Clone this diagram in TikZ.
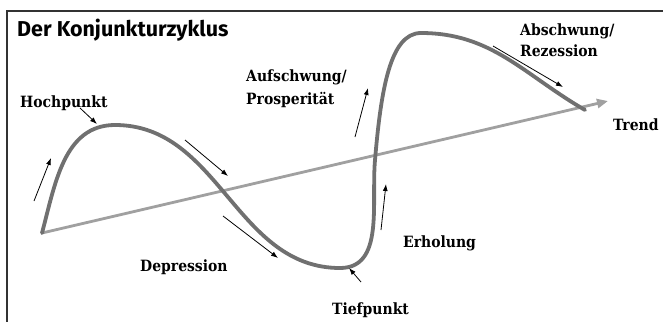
\documentclass[tikz,border=0pt]{standalone}
\usepackage{fontspec}
\setmainfont{DejaVu Serif Condensed}
\newfontfamily\titlefont{Fira Sans}
\usetikzlibrary{arrows.meta}
\definecolor{kurvengrau}{HTML}{707070}
\definecolor{trendgrau}{HTML}{A0A0A0}
\definecolor{rahmengrau}{HTML}{333333}
\begin{document}
\begin{tikzpicture}[
        x=1pt, y=-1pt,
        rahmen/.style={draw=rahmengrau, line width=1.4pt},
        kurve/.style={draw=kurvengrau, line width=3.8pt},
        trend/.style={draw=trendgrau, line width=2.8pt, -{Triangle[length=11pt,width=9pt]}},
        pfeil/.style={draw, line width=0.8pt, -{Latex[length=7pt,width=5pt]}},
        label/.style={inner sep=0pt, anchor=base west, font=\fontsize{15.5}{20}\selectfont\bfseries},
    ]
    \useasboundingbox (0,0) rectangle (663,322);
    \draw[rahmen] (663,11) -- (7,11) -- (7,322);
    \node[inner sep=0pt, anchor=base west, font=\titlefont\fontsize{21.5}{24}\selectfont\bfseries] (titel) at (17,36) {Der Konjunkturzyklus};

    \coordinate (start) at (42,233);
    \coordinate (hoch) at (115,125);
    \coordinate (tief) at (340,268);
    \coordinate (aufwaerts) at (375,160);
    \coordinate (gipfel) at (421,33);
    \coordinate (ende) at (585,110);
    \coordinate (trendspitze) at (608,101);

    \draw[trend] (start) -- (trendspitze);
    \draw[kurve, line cap=round] (start) to[out=75,in=180] (hoch)
        to[out=0,in=180] (tief)
        to[out=0,in=-95] (aufwaerts)
        .. controls (381,90) and (390,33) .. (gipfel)
        to[out=0,in=150] (ende);

    \node[label] (hochpunkt) at (20,107) {Hochpunkt};
    \node[label] (aufschwung) at (246,81) {Aufschwung/};
    \node[label] (prosperitaet) at (246,104) {Prosperität};
    \node[label] (abschwung) at (520,35) {Abschwung/};
    \node[label] (rezession) at (520,56) {Rezession};
    \node[label] (trendtext) at (613,130) {Trend};
    \node[label] (depression) at (140,271) {Depression};
    \node[label] (erholung) at (403,247) {Erholung};
    \node[label] (tiefpunkt) at (332,314) {Tiefpunkt};

    \coordinate (p1a) at (80,108);  \coordinate (p1b) at (97,124);
    \coordinate (p2a) at (34,201);  \coordinate (p2b) at (51,158);
    \coordinate (p3a) at (185,140); \coordinate (p3b) at (228,176);
    \coordinate (p4a) at (223,216); \coordinate (p4b) at (278,258);
    \coordinate (p5a) at (361,282); \coordinate (p5b) at (349,268);
    \coordinate (p6a) at (381,230); \coordinate (p6b) at (386,184);
    \coordinate (p7a) at (355,137); \coordinate (p7b) at (368,88);
    \coordinate (p8a) at (493,46);  \coordinate (p8b) at (563,87);
    \foreach \a/\b in {p1a/p1b, p2a/p2b, p3a/p3b, p4a/p4b, p5a/p5b, p6a/p6b, p7a/p7b, p8a/p8b}
        \draw[pfeil] (\a) -- (\b);
\end{tikzpicture}
\end{document}
